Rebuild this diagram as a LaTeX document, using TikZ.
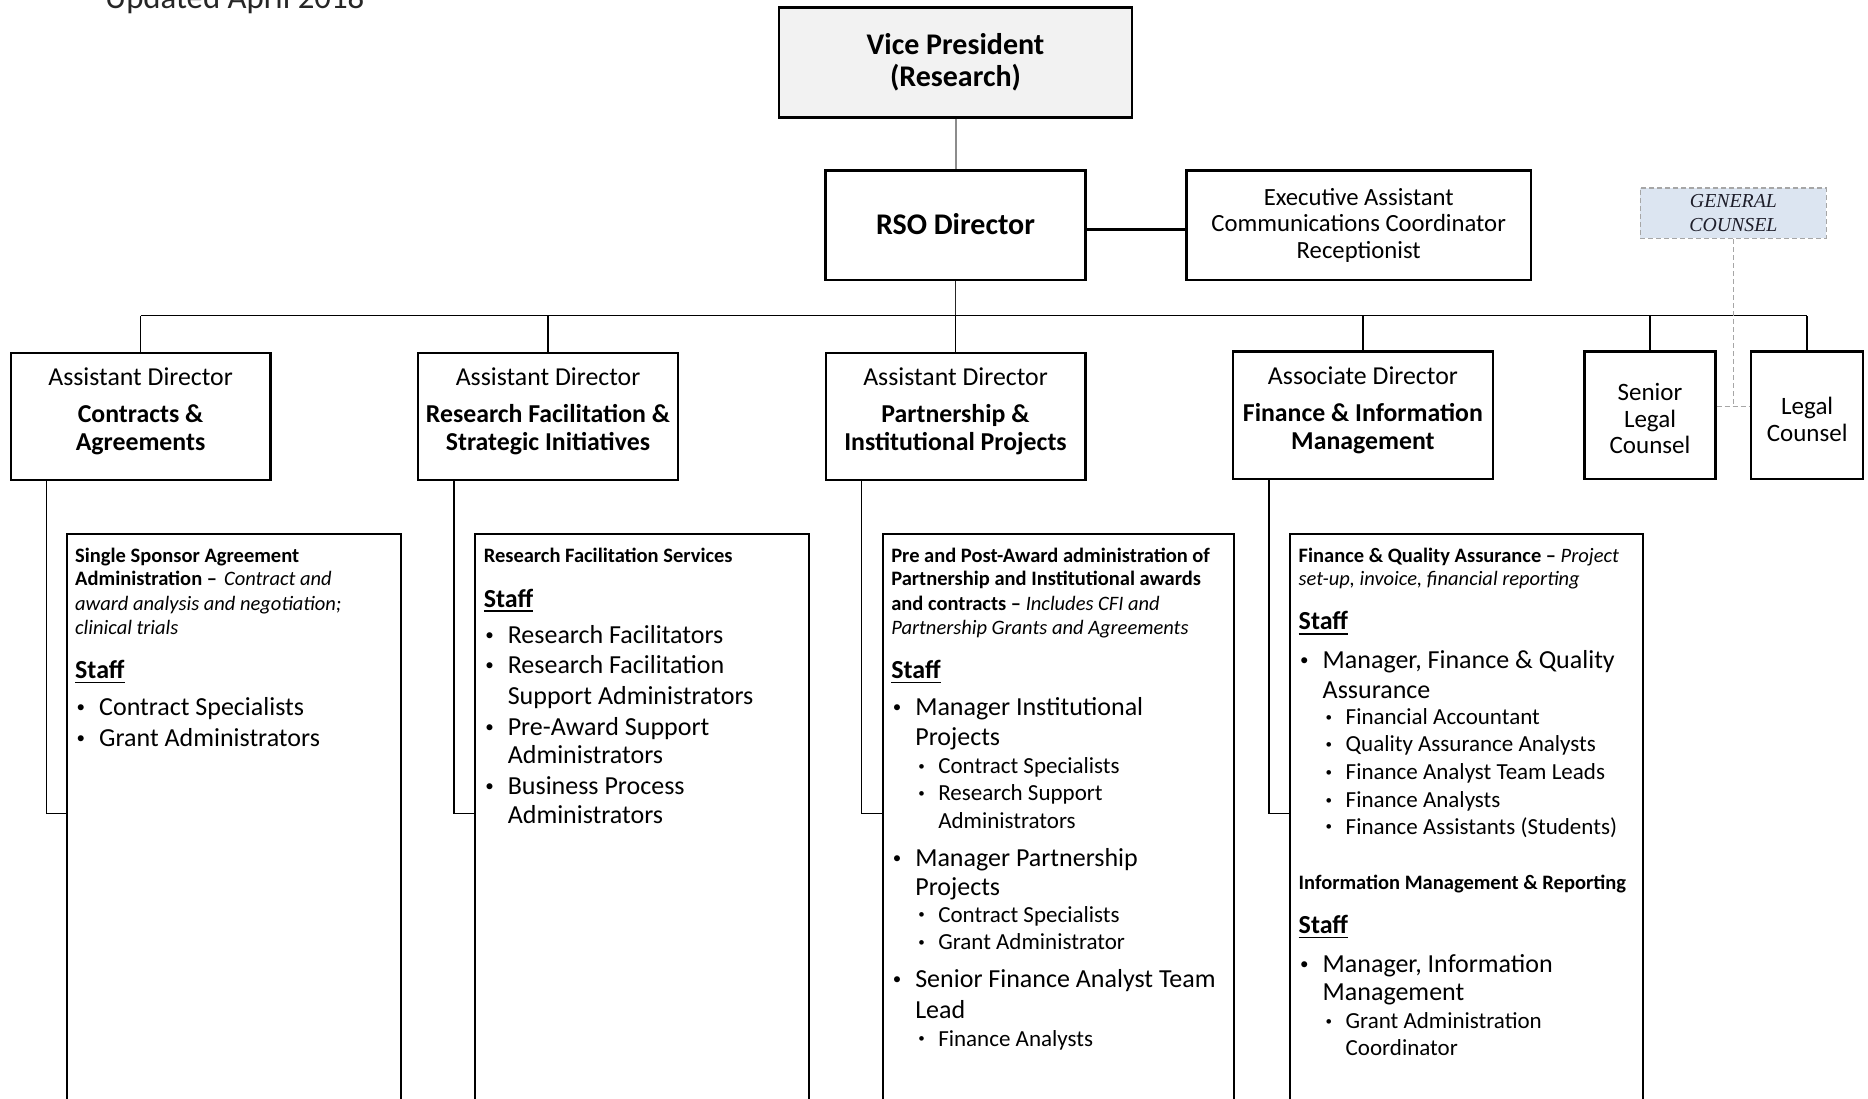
\documentclass[tikz,border=0pt]{standalone}
\usepackage{fontspec}
\setmainfont{Carlito}
\newfontfamily\gcfont{Liberation Serif}
\usetikzlibrary{calc}
\definecolor{vpfill}{HTML}{F2F2F2}
\definecolor{gcfill}{HTML}{DCE5F1}
\definecolor{gcline}{HTML}{A6A6A6}
\definecolor{vpline}{HTML}{8C8C8C}
\definecolor{gctext}{HTML}{1E1E2A}
\newcommand\stf{\setbox0\hbox{Staff}\rlap{\rule[-4.6pt]{\wd0}{1.8pt}}\box0}
\newcommand\bulA{\makebox[24pt][l]{\hspace{1.5pt}\raisebox{3pt}{\fontsize{17}{17}\selectfont\textbullet}}}
\newcommand\bulB{\makebox[21.5pt][l]{\hspace{1.5pt}\raisebox{3.3pt}{\fontsize{13}{13}\selectfont\textbullet}}}
\tikzset{
  box/.style={draw=black, line width=2.3pt, rectangle, inner sep=0pt, align=center, fill=white},
  lthree/.style={draw=black, line width=2pt, rectangle, inner sep=0pt, anchor=north west, minimum height=640pt},
  conn/.style={draw=black, line width=1.5pt},
  gcdash/.style={draw=gcline, line width=1.5pt, dash pattern=on 5pt off 3pt},
  ltwo/.style={inner sep=0pt, align=center, font=\fontsize{25.8}{28.6}\selectfont},
  lthdr/.style={anchor=base west, inner sep=0pt, font=\fontsize{20.5}{24}\selectfont\bfseries},
  ltstaff/.style={anchor=base west, inner sep=0pt, font=\fontsize{26}{30}\selectfont\bfseries},
  ltitem/.style={anchor=base west, inner sep=0pt, font=\fontsize{26}{30}\selectfont},
  ltsub/.style={anchor=base west, inner sep=0pt, font=\fontsize{23}{27}\selectfont},
}
\begin{document}
\begin{tikzpicture}[x=1pt,y=-1pt]
\useasboundingbox (0,0) rectangle (1868,1099);
\fill[white] (0,0) rectangle (1868,1099);
\clip (0,0) rectangle (1868,1099);

\node[anchor=base west, inner sep=0pt, font=\fontsize{32.8}{36}\selectfont, text=black!85] (upd) at (105,9) {Updated April 2018};

% top nodes
\node[box, fill=vpfill, line width=2.6pt, minimum width=353pt, minimum height=110pt, font=\fontsize{30}{32}\selectfont\bfseries] (vp) at (955.5,62.5) {\raisebox{-1pt}{Vice President}\\\raisebox{-1pt}{(Research)}};
\node[box, line width=2.6pt, minimum width=259.7pt, minimum height=109.6pt, font=\fontsize{30}{32}\selectfont\bfseries] (rso) at (955.5,225.2) {\raisebox{2pt}{RSO Director}};
\node[box, minimum width=344.3pt, minimum height=109.6pt, font=\fontsize{24.7}{26.7}\selectfont] (exec) at (1358.7,225.2) {Executive Assistant\\Communications Coordinator\\Receptionist};
\node[rectangle, draw=gcline, fill=gcfill, line width=1.5pt, dash pattern=on 5pt off 3pt, inner sep=0pt, align=center, minimum width=185.9pt, minimum height=50.1pt, text=gctext, font=\gcfont\itshape\fontsize{19.8}{24}\selectfont] (gc) at (1733.4,213.3) {GENERAL\\COUNSEL};

% level 2 boxes
\node[box, minimum width=259.7pt, minimum height=127.5pt] (ad1) at (140.6,416.4) {};
\node[box, minimum width=259.7pt, minimum height=127.5pt] (ad2) at (548,416.4) {};
\node[box, minimum width=259.7pt, minimum height=127.5pt] (ad3) at (955.5,416.4) {};
\node[box, minimum width=259.7pt, minimum height=127.5pt] (ad4) at (1362.9,415.2) {};
\node[box, minimum width=131.1pt, minimum height=127.5pt] (slc) at (1650,415.2) {};
\node[box, minimum width=112pt, minimum height=127.5pt] (lc) at (1807.2,415.2) {};
\node[inner sep=0pt, align=center, font=\fontsize{25}{26.7}\selectfont] (slct) at (1650,418.7) {Senior\\Legal\\Counsel};
\node[inner sep=0pt, align=center, font=\fontsize{25}{27.4}\selectfont] (lct) at (1807.2,419.2) {Legal\\Counsel};

\node[ltwo] (ad1t) at (140.6,411.4) {Assistant Director\\[8.4pt]\textbf{Contracts \&}\\\textbf{Agreements}};
\node[ltwo] (ad2t) at (548,411.4) {Assistant Director\\[8.4pt]\textbf{Research Facilitation \&}\\\textbf{Strategic Initiatives}};
\node[ltwo] (ad3t) at (955.5,411.4) {Assistant Director\\[8.4pt]\textbf{Partnership \&}\\\textbf{Institutional Projects}};
\node[ltwo] (ad4t) at (1362.9,410.2) {Associate Director\\[8.4pt]\textbf{Finance \& Information}\\\textbf{Management}};

% connectors
\draw[draw=vpline, line width=2pt] (vp.south) -- (rso.north);
\draw[line width=3pt] ([yshift=-4.8pt]rso.east) -- ([yshift=-4.8pt]exec.west);
\coordinate (bus) at (0,315.7);
\draw[draw=black!85, line width=1.8pt] (rso.south) -- (rso.south |- bus);
\draw[conn] (ad1.north |- bus) -- (lc.north |- bus);
\foreach \n in {ad1,ad2,ad3,ad4,slc,lc} \draw[conn] (\n.north) -- (\n.north |- bus);
\coordinate (gj) at (1733.4,406.5);
\draw[gcdash] (gc.south) -- (gj);
\draw[gcdash] (slc.east |- gj) -- (lc.west |- gj);

% level 3 boxes
\node[lthree, minimum width=334.8pt] (b1) at (65.5,532.5) {};
\node[lthree, minimum width=333.6pt] (b2) at (474.1,532.5) {};
\node[lthree, minimum width=351.4pt] (b3) at (881.6,532.5) {};
\node[lthree, minimum width=352.6pt] (b4) at (1289,532.5) {};
\foreach \a/\b in {ad1/b1,ad2/b2,ad3/b3,ad4/b4}
  \draw[conn] ($(\a.south west)+(37,0)$) |- ($(\b.north west)+(0,281.2)$);

\begin{scope}[yshift=-2pt]
% box 1 text
\node[lthdr] (s1a) at (75,560) {Single Sponsor Agreement};
\node[lthdr] (s1b) at (75,583.8) {Administration –\hspace{7pt}{\mdseries\itshape Contract and}};
\node[lthdr] (s1c) at (75,608.8) {\mdseries\itshape award analysis and negotiation;};
\node[lthdr] (s1d) at (75,632.6) {\mdseries\itshape clinical trials};
\node[ltstaff] (s1e) at (75,676.7) {\stf};
\node[ltitem] (s1f) at (75,713.9) {\bulA Contract Specialists};
\node[ltitem] (s1g) at (75,744.9) {\bulA Grant Administrators};

% box 2 text
\node[lthdr] (s2a) at (483.6,560) {Research Facilitation Services};
\node[ltstaff] (s2b) at (483.6,605.2) {\stf};
\node[ltitem] (s2c) at (483.6,641.3) {\bulA Research Facilitators};
\node[ltitem] (s2d) at (483.6,671.1) {\bulA Research Facilitation};
\node[ltitem] (s2e) at (507.6,702) {Support Administrators};
\node[ltitem] (s2f) at (483.6,733) {\bulA Pre-Award Support};
\node[ltitem] (s2g) at (507.6,761.5) {Administrators};
\node[ltitem] (s2h) at (483.6,792.5) {\bulA Business Process};
\node[ltitem] (s2i) at (507.6,821.2) {Administrators};

% box 3 text
\node[lthdr] (s3a) at (891.1,560) {Pre and Post-Award administration of};
\node[lthdr] (s3b) at (891.1,583.8) {Partnership and Institutional awards};
\node[lthdr] (s3c) at (891.1,608.8) {and contracts – {\mdseries\itshape Includes CFI and}};
\node[lthdr] (s3d) at (891.1,632.6) {\mdseries\itshape Partnership Grants and Agreements};
\node[ltstaff] (s3e) at (891.1,676.7) {\stf};
\node[ltitem] (s3f) at (891.1,713.9) {\bulA Manager Institutional};
\node[ltitem] (s3g) at (915.1,743.7) {Projects};
\node[ltsub] (s3h) at (916.6,771.3) {\bulB Contract Specialists};
\node[ltsub] (s3i) at (916.6,798.7) {\bulB Research Support};
\node[ltsub] (s3j) at (938.1,826.1) {Administrators};
\node[ltitem] (s3k) at (891.1,864) {\bulA Manager Partnership};
\node[ltitem] (s3l) at (915.1,893.8) {Projects};
\node[ltsub] (s3m) at (916.6,920.2) {\bulB Contract Specialists};
\node[ltsub] (s3n) at (916.6,947.6) {\bulB Grant Administrator};
\node[ltitem] (s3o) at (891.1,985.5) {\bulA Senior Finance Analyst Team};
\node[ltitem] (s3p) at (915.1,1016.5) {Lead};
\node[ltsub] (s3q) at (916.6,1044.1) {\bulB Finance Analysts};

% box 4 text
\node[lthdr] (s4a) at (1298.5,560) {Finance \& Quality Assurance – {\mdseries\itshape Project}};
\node[lthdr] (s4b) at (1298.5,583.8) {\mdseries\itshape set-up, invoice, financial reporting};
\node[ltstaff] (s4c) at (1298.5,627.9) {\stf};
\node[ltitem] (s4d) at (1298.5,666.3) {\bulA Manager, Finance \& Quality};
\node[ltitem] (s4e) at (1322.5,696.1) {Assurance};
\node[ltsub] (s4f) at (1324,722.5) {\bulB Financial Accountant};
\node[ltsub] (s4g) at (1324,749.9) {\bulB Quality Assurance Analysts};
\node[ltsub] (s4h) at (1324,777.3) {\bulB Finance Analyst Team Leads};
\node[ltsub] (s4i) at (1324,805.9) {\bulB Finance Analysts};
\node[ltsub] (s4j) at (1324,832.1) {\bulB Finance Assistants (Students)};
\node[lthdr] (s4k) at (1298.5,887.6) {Information Management \& Reporting};
\node[ltstaff] (s4l) at (1298.5,931.7) {\stf};
\node[ltitem] (s4m) at (1298.5,970.1) {\bulA Manager, Information};
\node[ltitem] (s4n) at (1322.5,998.7) {Management};
\node[ltsub] (s4o) at (1324,1026.3) {\bulB Grant Administration};
\node[ltsub] (s4p) at (1345.5,1053.7) {Coordinator};
\end{scope}
\end{tikzpicture}
\end{document}
